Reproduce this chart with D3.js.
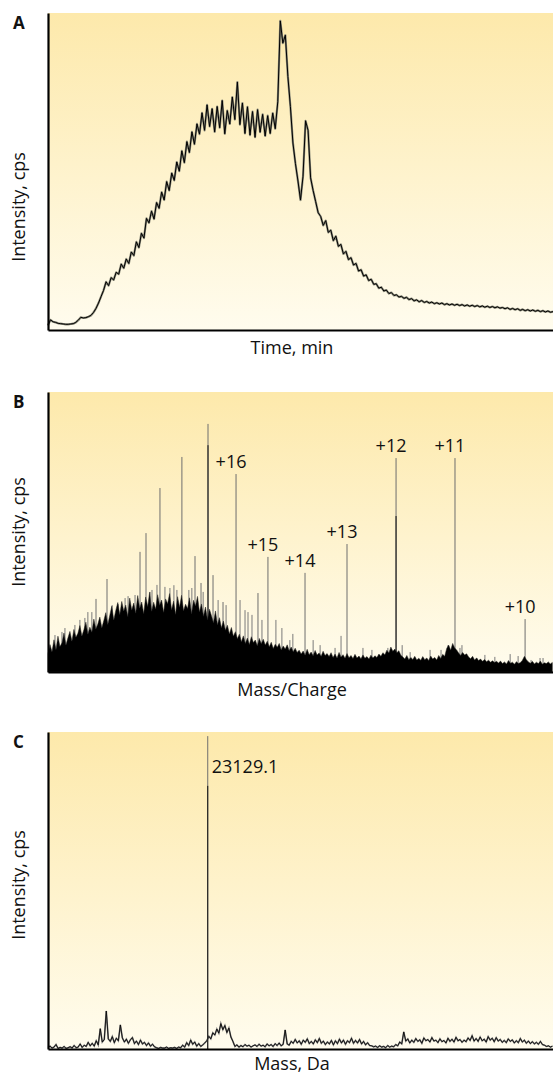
<!DOCTYPE html>
<html><head><meta charset="utf-8">
<script src="https://cdn.jsdelivr.net/npm/d3@7"></script>
<style>body{margin:0;background:#fff}svg{display:block}text{font-family:"Open Sans",sans-serif;fill:#111}</style>
</head><body>
<svg id="chart" width="553" height="1077"></svg>
<script>
// ---------- Panel A: total ion chromatogram ----------
const timeStart = 0, timeStep = 0.25; // min, acquisition sampling
const ticIntensity = [
1.5,3.2,2.6,2.4,2.1,2.0,1.9,1.8,1.8,1.9,2.0,2.4,3.1,4.0,3.8,3.9,4.2,4.6,5.5,6.8,8.5,
10.5,12.5,15.2,14.0,16.5,15.8,18.2,17.6,20.8,19.5,22.4,21.0,24.6,23.5,27.8,26.0,30.5,29.0,35.2,33.8,
37.5,35.0,40.2,38.4,43.5,41.0,46.8,44.0,49.5,47.2,53.0,50.1,56.5,52.8,59.4,56.0,62.5,58.6,65.0,61.8,
68.5,63.0,71.0,64.2,69.8,62.5,70.5,63.8,72.4,61.9,69.2,65.0,73.5,66.4,78.2,64.8,71.6,62.0,70.4,61.5,68.9,60.8,69.5,62.4,68.0,61.2,67.6,62.0,68.4,63.5,
72.0,97.5,90.5,93.0,80.0,70.5,59.0,52.5,47.0,41.0,48.5,66.0,63.0,48.0,44.0,40.5,37.0,35.8,
33.0,34.5,30.8,31.5,28.2,29.6,26.4,27.0,24.0,24.8,22.2,22.8,20.5,21.0,18.6,19.0,17.0,17.4,15.6,16.0,14.4,14.6,13.2,13.5,12.3,12.6,11.5,11.8,10.9,11.1,10.4,10.6,
10.0,10.3,9.6,9.9,9.2,9.5,8.9,9.3,8.7,9.0,8.5,8.8,8.3,8.6,8.2,8.5,8.0,8.3,7.9,8.2,7.8,8.1,7.7,8.0,7.6,7.9,7.5,7.8,7.4,7.7,
7.3,7.6,7.2,7.5,7.1,7.4,7.0,7.3,6.9,7.1,6.7,7.0,6.5,6.8,6.4,6.7,6.2,6.5,6.1,6.4,6.0,6.3,5.9,6.2,5.8,6.1,5.7,6.0,5.6,5.8
];

// ---------- Panel B: m/z spectrum ----------
const mzStart = 880, mzStep = 6;
const mzBackground = [
6.5,9.8,7.2,11.5,8.0,12.8,9.1,10.4,13.9,9.6,12.2,14.5,
11.0,15.2,12.4,13.8,16.6,12.9,15.1,17.8,13.5,16.0,14.2,18.9,15.4,17.1,
19.6,15.8,18.4,21.2,17.0,20.3,23.5,18.6,22.0,24.8,
20.5,25.2,21.8,23.9,19.8,26.4,22.1,24.6,21.0,27.3,22.8,25.0,20.9,26.8,23.4,28.5,21.7,24.9,22.5,27.6,
23.8,25.7,21.3,26.1,24.4,28.0,22.2,25.3,20.6,26.9,23.1,27.4,21.9,24.2,22.7,26.5,20.8,25.6,23.6,27.0,
21.5,24.3,19.9,23.2,18.7,22.4,20.1,17.6,21.8,16.9,19.4,15.8,18.2,14.9,16.7,
13.6,15.9,12.8,14.4,11.9,13.5,10.8,12.9,10.2,12.1,
9.8,12.6,10.5,11.4,9.4,12.0,10.1,11.7,9.6,11.0,
9.0,10.6,8.4,9.9,8.8,10.2,7.9,9.3,8.2,9.7,7.6,8.9,7.2,8.5,7.0,
7.8,6.4,7.5,6.0,8.1,6.2,7.1,5.8,7.7,6.1,6.8,5.6,7.4,5.9,6.6,
5.5,6.9,5.2,6.4,5.0,7.0,5.3,6.2,4.9,6.6,5.1,5.9,4.8,6.3,5.0,
5.7,4.7,6.1,4.9,5.5,4.6,6.0,5.0,5.8,5.2,6.4,5.6,6.9,6.2,
7.8,6.8,8.9,7.4,8.2,6.9,7.6,6.0,
5.4,4.6,5.9,4.4,5.2,4.5,5.6,4.3,
4.9,4.2,5.5,4.4,5.0,4.1,5.7,4.6,5.2,4.3,5.9,4.8,6.3,5.6,
8.4,9.6,7.8,10.2,8.6,7.9,
6.8,5.9,7.0,6.1,6.5,
5.4,4.7,5.6,4.3,5.0,4.1,4.6,3.8,4.5,3.7,4.2,3.5,4.0,3.4,3.8,
3.2,3.9,3.0,3.6,2.9,4.1,3.1,3.5,2.8,3.7,3.0,3.4,4.2,5.6,4.4,3.6,3.1,3.8,2.9,3.5,3.0,3.9,2.8,3.3,3.0,3.6,2.9,3.4
];
const mzMinorPeaks   = [901,922,931,961,976,991,1000,1012,1073,1091,1112,1121,1142,1187,1193,1208,1232,1247,1259,1268,1304,1313,1347,1392,1416,1458,1473,1482,1494,1524,1566,1584,1608,1617,1678,1699,1744,1762,1828,1855,1903,1946,1970,2030,2063,2084,2120,2126,2171,2195,2225,2271,2295,2334,2361,2370];
const mzMinorHeights = [13.2,14.3,15.7,16.8,18.6,19.3,21.4,21.4,23.9,24.3,26.4,27.1,27.5,28.6,29.3,31.1,30.4,30,31,29.3,29.3,30,28.6,25.7,23.9,25.7,22.1,21.4,20.4,18.6,18.6,15.7,11.4,13.6,11.4,9.6,8.6,12.9,8.6,7.9,8.6,9.6,7.1,7.9,7.9,9.6,8.6,9.6,5,6.1,5.4,6.4,5.7,4.3,5,5];
const mzPeaks       = [1024.5,1057.6,1157,1175,1217,1283,1322.5,1340.6,1361.6,1376.7,1406.8,1446,1512,1542,1653.6,1780,1927.6,2105,2316];
const mzPeakHeights = [26.1,33.2,42.9,49.6,65.7,76.8,41.4,31.8,88.6,34.6,25,70.7,28.2,41.1,35.4,45.7,76.4,76.4,18.9];
const mzOverlayPeaks   = [1361.6,1927.6];
const mzOverlayHeights = [81,55.7];
const chargeLabels  = ["+16","+15","+14","+13","+12","+11","+10"];
const chargeMz      = [1446,1542,1653.6,1780,1927.6,2105,2316];
const chargeHeights = [70.7,41.1,35.4,45.7,76.4,76.4,18.9];

// ---------- Panel C: deconvoluted mass ----------
const massStart = 19950, massStep = 40;
const massNoise = [
0.4,0.9,0.3,0.6,1.4,0.2,0.5,0.3,0.8,0.2,0.4,0.7,0.3,1.1,0.4,0.6,1.6,0.5,1.2,
0.8,2.1,1.0,1.8,0.9,2.6,1.3,6.4,2.2,3.0,12.0,3.2,2.4,3.9,2.0,3.4,2.6,7.6,3.5,2.2,3.1,1.8,2.9,3.6,1.7,2.5,1.4,2.8,1.6,2.1,1.1,1.9,0.9,1.5,0.7,
0.4,0.2,0.5,0.3,0.3,0.6,0.2,0.4,0.3,0.5,0.2,0.6,0.4,
1.2,0.6,2.0,1.1,2.8,1.5,2.2,0.9,1.7,0.8,1.3,1.9,2.6,
4.0,3.2,5.1,4.4,6.3,5.0,8.0,6.1,7.4,5.2,6.6,3.8,2.4,
0.8,1.3,0.6,1.1,0.7,1.4,0.9,1.2,0.6,1.0,
1.3,0.8,1.5,0.9,1.2,0.7,1.6,1.0,1.4,0.8,
1.7,1.1,1.9,1.0,1.5,6.0,1.6,1.2,2.4,1.8,
3.0,1.9,2.6,1.5,2.8,2.1,3.2,1.7,2.4,1.6,
2.9,2.0,3.3,1.8,2.5,1.4,2.2,1.6,2.7,1.3,
2.6,1.7,3.1,1.9,2.8,1.5,2.6,2.0,3.4,1.8,
2.7,1.9,3.0,1.6,2.4,1.3,2.0,1.1,1.0,0.7,
0.9,0.5,1.0,0.6,0.8,0.4,1.1,0.6,0.9,0.7,
1.4,1.0,2.2,1.6,5.4,2.5,3.2,1.9,2.8,2.1,
3.3,2.4,2.9,1.8,3.5,2.6,3.0,2.2,3.6,2.5,
2.8,2.0,3.2,2.3,2.7,1.9,3.4,2.4,3.1,2.2,
3.7,2.6,3.0,2.1,2.8,2.3,3.5,2.7,4.2,2.5,
3.3,2.4,3.8,2.6,3.1,2.2,3.9,2.8,3.4,2.3,
3.6,2.5,3.0,2.1,2.7,2.0,3.2,2.4,2.9,1.9,
2.6,2.0,3.3,2.2,2.8,1.8,2.5,1.7,2.3,1.6,
2.1,1.5,2.4,1.4,1.2,0.8,1.0,0.6,0.9
];
const massPeaks = [23129.1];
const massPeakHeights = [98.7];
const massOverlayHeights = [83];
const massLabels = ["23129.1"];

// ---------- drawing ----------
const svg = d3.select("#chart");
const defs = svg.append("defs");
const grad = defs.append("linearGradient").attr("id","bg").attr("x1",0).attr("y1",0).attr("x2",0).attr("y2",1);
grad.append("stop").attr("offset","0%").attr("stop-color","#fde9ab");
grad.append("stop").attr("offset","100%").attr("stop-color","#fffcee");

const L = 48, R = 553;
const panels = [
  {letter:"A", top:13,  bottom:330,  xlab:"Time, min",   ylabY:207, domain:[0,50]},
  {letter:"B", top:392, bottom:672,  xlab:"Mass/Charge", ylabY:532, domain:[880,2400]},
  {letter:"C", top:732, bottom:1049, xlab:"Mass, Da",    ylabY:885, domain:[19950,30000]}
];
panels.forEach(p => {
  p.x = d3.scaleLinear().domain(p.domain).range([L, R]);
  p.y = d3.scaleLinear().domain([0,100]).range([p.bottom, p.top]);
  p.g = svg.append("g");
  p.g.append("rect").attr("x",L).attr("y",p.top).attr("width",R-L).attr("height",p.bottom-p.top).attr("fill","url(#bg)");
});

// A
{
  const p = panels[0];
  const pts = ticIntensity.map((v,i)=>[timeStart+i*timeStep, v]);
  const line = d3.line().x(d=>p.x(d[0])).y(d=>p.y(d[1]));
  p.g.append("path").attr("d",line(pts)).attr("fill","none").attr("stroke","#8a8a7a").attr("stroke-width",2.2).attr("stroke-linejoin","round");
  p.g.append("path").attr("d",line(pts)).attr("fill","none").attr("stroke","#000").attr("stroke-width",1).attr("stroke-linejoin","round");
}
// B
{
  const p = panels[1];
  p.g.selectAll(".minor").data(mzMinorPeaks).join("line")
    .attr("x1",d=>p.x(d)).attr("x2",d=>p.x(d))
    .attr("y1",p.y(0)).attr("y2",(d,i)=>p.y(mzMinorHeights[i]))
    .attr("stroke","#7a7a7a").attr("stroke-width",1);
  p.g.selectAll(".peak").data(mzPeaks).join("line")
    .attr("x1",d=>p.x(d)).attr("x2",d=>p.x(d))
    .attr("y1",p.y(0)).attr("y2",(d,i)=>p.y(mzPeakHeights[i]))
    .attr("stroke","#6e6e6e").attr("stroke-width",1);
  p.g.selectAll(".ov").data(mzOverlayPeaks).join("line")
    .attr("x1",d=>p.x(d)).attr("x2",d=>p.x(d))
    .attr("y1",p.y(0)).attr("y2",(d,i)=>p.y(mzOverlayHeights[i]))
    .attr("stroke","#111").attr("stroke-width",1);
  const pts = mzBackground.map((v,i)=>[mzStart+i*mzStep, v]);
  const area = d3.area().x(d=>p.x(d[0])).y0(p.y(0)).y1(d=>p.y(d[1]));
  p.g.append("path").attr("d",area(pts)).attr("fill","#000").attr("stroke","#222").attr("stroke-width",0.5);
  p.g.selectAll(".lab").data(chargeLabels).join("text")
    .attr("x",(d,i)=>p.x(chargeMz[i])-5).attr("y",(d,i)=>p.y(chargeHeights[i])-6)
    .attr("text-anchor","middle").attr("font-size",18).text(d=>d);
}
// C
{
  const p = panels[2];
  const pts = massNoise.map((v,i)=>[massStart+i*massStep, v]);
  const line = d3.line().x(d=>p.x(d[0])).y(d=>p.y(d[1]));
  p.g.append("path").attr("d",line(pts)).attr("fill","none").attr("stroke","#777").attr("stroke-width",1.6);
  p.g.append("path").attr("d",line(pts)).attr("fill","none").attr("stroke","#000").attr("stroke-width",0.8);
  p.g.selectAll(".peak").data(massPeaks).join("line")
    .attr("x1",d=>p.x(d)).attr("x2",d=>p.x(d))
    .attr("y1",p.y(0)).attr("y2",(d,i)=>p.y(massPeakHeights[i]))
    .attr("stroke","#6e6e6e").attr("stroke-width",1);
  p.g.selectAll(".ov").data(massPeaks).join("line")
    .attr("x1",d=>p.x(d)).attr("x2",d=>p.x(d))
    .attr("y1",p.y(0)).attr("y2",(d,i)=>p.y(massOverlayHeights[i]))
    .attr("stroke","#111").attr("stroke-width",1);
  p.g.selectAll(".lab").data(massLabels).join("text")
    .attr("x",(d,i)=>p.x(massPeaks[i])+4).attr("y",(d,i)=>p.y(massPeakHeights[i])+37)
    .attr("font-size",18).text(d=>d);
}

// axes and labels
panels.forEach(p => {
  const ay = svg.append("g").attr("transform",`translate(${L},0)`).call(d3.axisLeft(p.y).tickValues([]).tickSizeOuter(0));
  const ax = svg.append("g").attr("transform",`translate(0,${p.bottom})`).call(d3.axisBottom(p.x).tickValues([]).tickSizeOuter(0));
  [ay, ax].forEach(a => a.select(".domain").attr("stroke","#000").attr("stroke-width",2.2));
  svg.append("text").attr("x",13).attr("y",p.top+16).attr("font-size",17).attr("font-weight","bold").text(p.letter);
  svg.append("text").attr("transform",`translate(25,${p.ylabY}) rotate(-90)`).attr("text-anchor","middle").attr("font-size",18).text("Intensity, cps");
  svg.append("text").attr("x",292).attr("y",p.bottom+(p.letter==="C"?21:24)).attr("text-anchor","middle").attr("font-size",18).text(p.xlab);
});
</script>
</body></html>
